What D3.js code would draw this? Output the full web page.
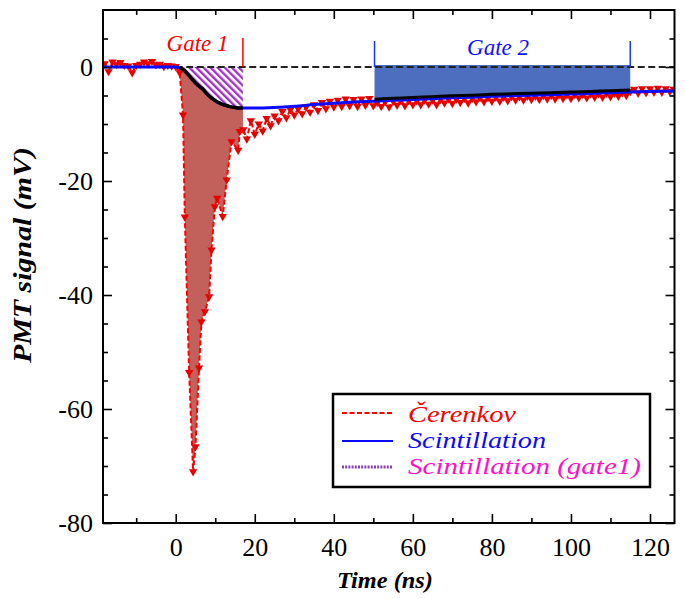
<!DOCTYPE html>
<html><head><meta charset="utf-8">
<script src="https://cdn.jsdelivr.net/npm/d3@7"></script>
<style>
body{margin:0;background:#fff}
svg{display:block}
text{font-family:"Liberation Serif","Times New Roman",Times,serif}
</style>
</head><body>
<svg id="chart" width="686" height="599"></svg>
<script>
// ---------------- DATA ----------------
const cherenkovTime = [
  -18,-17,-16,-15,-14,-13,-12,-11,-10,-9,-8,-7,-6,-5,-4,-3,-2,-1,0,
  1.0,1.85,2.3,3.4,4.4,5.0,5.9,6.5,7.4,8.45,9.05,9.9,10.5,11.9,12.9,14.1,15.8,16.2,17.1,
  18,19,20,21,22,23,24,25,26,27,28,29,
  30,31,32,33,34,35,36,37,38,39,40,41,42,43,44,45,46,47,48,49,
  50,51,52,53,54,55,56,57,58,59,60,61,62,63,64,65,66,67,68,69,
  70,71,72,73,74,75,76,77,78,79,80,81,82,83,84,85,86,87,88,89,
  90,91,92,93,94,95,96,97,98,99,100,101,102,103,104,105,106,107,108,109,
  110,111,112,113,114,115,116,117,118,119,120,121,122,123,124,125,126
];
const cherenkovValue = [
  0.6,-0.8,0.9,0.5,0.8,0.3,0.2,-1.0,0.3,0.5,0.9,0.6,1.0,0.4,0.5,0.1,0.3,0.2,0.1,
  -1.0,-8.4,-26.3,-53.6,-71.0,-66.6,-52.8,-44.7,-42.9,-40.3,-32.1,-24.5,-23.0,-26.2,-19.8,-13.1,-14.6,-11.3,-11.0,
  -12.6,-9.4,-11.8,-10.0,-11.2,-9.0,-10.3,-8.6,-9.4,-7.8,-8.9,-7.5,
  -8.4,-7.3,-8.2,-7.0,-7.9,-6.6,-7.6,-6.2,-7.3,-6.0,-7.0,-5.8,-6.9,-5.6,-6.8,-5.7,-6.9,-5.6,-6.7,-5.5,
  -6.8,-6.2,-6.9,-6.1,-7.0,-6.0,-6.7,-5.9,-6.8,-5.9,-6.6,-5.9,-6.6,-5.8,-6.5,-5.8,-6.6,-5.7,-6.3,-5.6,
  -6.4,-5.6,-6.2,-5.5,-6.3,-5.5,-6.1,-5.4,-6.1,-5.4,-6.0,-5.3,-6.0,-5.3,-5.9,-5.2,-5.8,-5.2,-5.8,-5.1,
  -5.7,-5.1,-5.7,-5.0,-5.6,-5.0,-5.6,-4.9,-5.5,-4.9,-5.5,-4.8,-5.4,-4.8,-5.4,-4.7,-5.3,-4.7,-5.3,-4.6,
  -5.2,-4.6,-5.1,-4.5,-5.0,-4.3,-3.9,-4.6,-3.8,-4.5,-3.8,-4.4,-3.7,-4.4,-3.8,-4.3,-3.9
];
const scintTime = [-18.4,0,1,2,3,4,5,6,7,8,9,10,11,12,13,14,15,16,17,20,25,30,35,40,45,50,55,60,65,70,75,80,85,90,95,100,105,110,115,120,126.2];
const scintValue = [0,0,-0.1,-0.5,-1.2,-2.0,-2.8,-3.4,-4.0,-4.8,-5.4,-5.9,-6.3,-6.6,-6.8,-7.0,-7.1,-7.2,-7.2,-7.2,-7.1,-6.9,-6.6,-6.35,-6.15,-6.0,-5.85,-5.7,-5.55,-5.4,-5.3,-5.15,-5.05,-4.95,-4.85,-4.75,-4.65,-4.5,-4.4,-4.3,-4.2];

const xMajorTicks = [0,20,40,60,80,100,120];
const xMinorTicks = [-10,10,30,50,70,90,110];
const yMajorTicks = [0,-20,-40,-60,-80];
const yMinorTicks = [5,-5,-10,-15,-25,-30,-35,-45,-50,-55,-65,-70,-75];
const gate1Range = [0,17];
const gate2Range = [50.3,115];
const gateLabels = ["Gate 1","Gate 2"];
const legendLabels = ["Čerenkov","Scintillation","Scintillation (gate1)"];
const axisTitles = {x:"Time (ns)", y:"PMT signal (mV)"};

// ---------------- LAYOUT ----------------
const FONT = '"Liberation Serif","Times New Roman",Times,serif';
const L = 103, R = 674.5, T = 10, B = 523;
const svg = d3.select("#chart");
const x = d3.scaleLinear().domain([-18.4,126.2]).range([L,R]);
const y = d3.scaleLinear().domain([-80,10]).range([B,T]);

const cher = cherenkovTime.map((t,i)=>({t, v:cherenkovValue[i]}));
const scint = scintTime.map((t,i)=>({t, v:scintValue[i]}));

const defs = svg.append("defs");
defs.append("clipPath").attr("id","plot").append("rect")
  .attr("x",L).attr("y",T).attr("width",R-L).attr("height",B-T);
defs.append("clipPath").attr("id","g1").append("rect")
  .attr("x",x(gate1Range[0])).attr("y",T).attr("width",x(gate1Range[1])-x(gate1Range[0])).attr("height",B-T);
defs.append("clipPath").attr("id","g2").append("rect")
  .attr("x",x(gate2Range[0])).attr("y",T).attr("width",x(gate2Range[1])-x(gate2Range[0])).attr("height",B-T);
const pat = defs.append("pattern").attr("id","hatch").attr("patternUnits","userSpaceOnUse")
  .attr("width",5).attr("height",5).attr("patternTransform","rotate(-45)");
pat.append("rect").attr("width",5).attr("height",5).attr("fill","#fff");
pat.append("rect").attr("width",2.4).attr("height",5).attr("fill","#9b35c4");

const plot = svg.append("g").attr("clip-path","url(#plot)");

// brown fill between Cherenkov and scintillation inside gate 1
const cherSeg = cher.filter(d=>d.t>=-1 && d.t<=18.5);
const scSeg = scint.filter(d=>d.t>=-1 && d.t<=20).slice().reverse();
const poly = cherSeg.map(d=>[x(d.t),y(d.v)]).concat(scSeg.map(d=>[x(d.t),y(d.v)]));
plot.append("g").attr("clip-path","url(#g1)").append("path")
  .attr("d", d3.line()(poly)+"Z").attr("fill","#c2605b");

// hatched scintillation in gate 1
const areaSc = d3.area().x(d=>x(d.t)).y0(y(0)).y1(d=>y(d.v)).curve(d3.curveMonotoneX);
plot.append("g").attr("clip-path","url(#g1)").append("path")
  .attr("d", areaSc(scint)).attr("fill","url(#hatch)");

// blue gate 2 fill
plot.append("g").attr("clip-path","url(#g2)").append("path")
  .attr("d", areaSc(scint)).attr("fill","#4d6ebe").attr("transform","translate(0,-2)");

// zero dashed line
plot.append("line").attr("x1",x(0)).attr("x2",R).attr("y1",y(0)).attr("y2",y(0))
  .attr("stroke","#222").attr("stroke-width",2).attr("stroke-dasharray","7,3.5");

// Cherenkov
const lineC = d3.line().x(d=>x(d.t)).y(d=>y(d.v));
plot.append("path").attr("d",lineC(cher)).attr("fill","none")
  .attr("stroke","#ff0000").attr("stroke-width",2).attr("stroke-dasharray","5,2.5");
const tri = d3.symbol().type(d3.symbolTriangle).size(30);
plot.append("g").selectAll("path").data(cher).join("path")
  .attr("d",tri).attr("fill","#e80000")
  .attr("transform",d=>`translate(${x(d.t)},${y(d.v)}) rotate(180)`);

// scintillation
const lineS = d3.line().x(d=>x(d.t)).y(d=>y(d.v)).curve(d3.curveMonotoneX);
plot.append("path").attr("d",lineS(scint)).attr("fill","none")
  .attr("stroke","#0a0aff").attr("stroke-width",3);
plot.append("g").attr("clip-path","url(#g1)").append("path").attr("d",lineS(scint.filter(d=>d.t>=0.5)))
  .attr("fill","none").attr("stroke","#000").attr("stroke-width",3.5);
plot.append("g").attr("clip-path","url(#g2)").append("path").attr("d",lineS(scint))
  .attr("fill","none").attr("stroke","#000").attr("stroke-width",3).attr("transform","translate(0,-2)");

// gate markers
svg.append("line").attr("x1",x(gate1Range[1])).attr("x2",x(gate1Range[1])).attr("y1",38).attr("y2",y(0))
  .attr("stroke","#ff0000").attr("stroke-width",1.5);
[gate2Range[0],gate2Range[1]].forEach(g=>{
  svg.append("line").attr("x1",x(g)).attr("x2",x(g)).attr("y1",41).attr("y2",y(0))
    .attr("stroke","#2233ff").attr("stroke-width",1.5);
});
svg.append("text").attr("x",197.5).attr("y",51).attr("text-anchor","middle").attr("font-family",FONT)
  .attr("font-style","italic").attr("font-size",23).attr("fill","#ff0000").text(gateLabels[0]);
svg.append("text").attr("x",498).attr("y",55).attr("text-anchor","middle").attr("font-family",FONT)
  .attr("font-style","italic").attr("font-size",23).attr("fill","#1010ff").text(gateLabels[1]);

// ---------------- AXES ----------------
const fontSize = 26;
function styleAxis(g){
  g.select(".domain").remove();
  g.selectAll("line").attr("stroke","#000").attr("stroke-width",1.6);
  g.selectAll("text").attr("font-size",fontSize).attr("fill","#000").attr("font-family",FONT);
}
const fmt = d => (d<0 ? "-" : "") + Math.abs(d);
svg.append("g").attr("transform",`translate(0,${B})`)
  .call(d3.axisBottom(x).tickValues(xMajorTicks).tickSize(-9).tickSizeOuter(0).tickPadding(15).tickFormat(fmt))
  .call(styleAxis);
svg.append("g").attr("transform",`translate(0,${B})`)
  .call(d3.axisBottom(x).tickValues(xMinorTicks).tickSize(-5).tickSizeOuter(0).tickFormat(""))
  .call(styleAxis);
svg.append("g").attr("transform",`translate(0,${T})`)
  .call(d3.axisTop(x).tickValues(xMajorTicks).tickSize(-9).tickSizeOuter(0).tickFormat(""))
  .call(styleAxis);
svg.append("g").attr("transform",`translate(0,${T})`)
  .call(d3.axisTop(x).tickValues(xMinorTicks).tickSize(-5).tickSizeOuter(0).tickFormat(""))
  .call(styleAxis);
svg.append("g").attr("transform",`translate(${L},0)`)
  .call(d3.axisLeft(y).tickValues(yMajorTicks).tickSize(-9).tickSizeOuter(0).tickPadding(10).tickFormat(fmt))
  .call(styleAxis);
svg.append("g").attr("transform",`translate(${L},0)`)
  .call(d3.axisLeft(y).tickValues(yMinorTicks).tickSize(-5).tickSizeOuter(0).tickFormat(""))
  .call(styleAxis);
svg.append("g").attr("transform",`translate(${R},0)`)
  .call(d3.axisRight(y).tickValues(yMajorTicks).tickSize(-9).tickSizeOuter(0).tickFormat(""))
  .call(styleAxis);
svg.append("g").attr("transform",`translate(${R},0)`)
  .call(d3.axisRight(y).tickValues(yMinorTicks).tickSize(-5).tickSizeOuter(0).tickFormat(""))
  .call(styleAxis);

svg.append("rect").attr("x",L).attr("y",T).attr("width",R-L).attr("height",B-T)
  .attr("fill","none").attr("stroke","#000").attr("stroke-width",2);

// axis titles
svg.append("text").attr("x",385).attr("y",588).attr("text-anchor","middle").attr("font-family",FONT)
  .attr("font-style","italic").attr("font-weight","bold").attr("font-size",24).attr("fill","#000")
  .attr("textLength",96).attr("lengthAdjust","spacingAndGlyphs").text(axisTitles.x);
svg.append("text").attr("transform","translate(31,255) rotate(-90)").attr("text-anchor","middle").attr("font-family",FONT)
  .attr("font-style","italic").attr("font-weight","bold").attr("font-size",25).attr("fill","#000")
  .attr("textLength",216).attr("lengthAdjust","spacingAndGlyphs").text(axisTitles.y);

// ---------------- LEGEND ----------------
const lg = svg.append("g");
lg.append("rect").attr("x",333).attr("y",394).attr("width",317).attr("height",93)
  .attr("fill","#fff").attr("stroke","#000").attr("stroke-width",2.5);
const legendColors = ["#ff0000","#0a0aff","#ff10c8"];
const rowsY = [413,441,467];
const baseY = [422,448,474];
const legendWidths = [108,138,233];
lg.append("line").attr("x1",342).attr("x2",393).attr("y1",rowsY[0]).attr("y2",rowsY[0])
  .attr("stroke","#ff0000").attr("stroke-width",1.8).attr("stroke-dasharray","5,2.5");
lg.append("line").attr("x1",342).attr("x2",393).attr("y1",rowsY[1]).attr("y2",rowsY[1])
  .attr("stroke","#0a0aff").attr("stroke-width",2.2);
lg.append("line").attr("x1",342).attr("x2",393).attr("y1",rowsY[2]).attr("y2",rowsY[2])
  .attr("stroke","#8a40b0").attr("stroke-width",3).attr("stroke-dasharray","2,1.2");
legendLabels.forEach((s,i)=>{
  lg.append("text").attr("x",408).attr("y",baseY[i]).attr("font-style","italic").attr("font-family",FONT)
    .attr("font-size",24).attr("fill",legendColors[i])
    .attr("textLength",legendWidths[i]).attr("lengthAdjust","spacingAndGlyphs").text(s);
});
</script>
</body></html>
